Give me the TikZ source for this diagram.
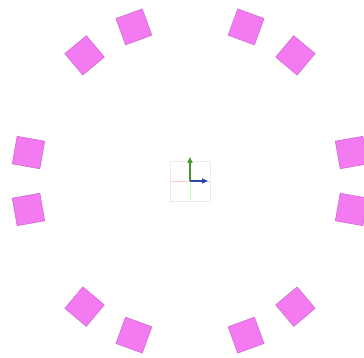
\documentclass[tikz,border=0pt]{standalone}
\usepackage{tikz}
\usetikzlibrary{arrows.meta}

\definecolor{tilepink}{RGB}{243,122,240}
\definecolor{tileedge}{RGB}{205,110,210}
\definecolor{gizgreen}{RGB}{70,150,40}
\definecolor{gizblue}{RGB}{40,70,170}

\begin{document}
\begin{tikzpicture}[
  x=1pt, y=1pt,
  tile/.style={rectangle, draw=tileedge, line width=0.6pt, fill=tilepink,
    minimum size=28pt, inner sep=0pt},
  gridline/.style={draw=black!8, line width=0.5pt},
  axis/.style={line width=1.2pt, -{Triangle[width=5pt,length=6pt]}}
]
  \useasboundingbox (-190,-177) rectangle (174,181);

  % ring of tiles
  \node[tile, rotate=10]  (t1)  at (10:164)  {};
  \node[tile, rotate=50]  (t2)  at (50:164)  {};
  \node[tile, rotate=70]  (t3)  at (70:164)  {};
  \node[tile, rotate=110] (t4)  at (110:164) {};
  \node[tile, rotate=130] (t5)  at (130:164) {};
  \node[tile, rotate=170] (t6)  at (170:164) {};
  \node[tile, rotate=190] (t7)  at (190:164) {};
  \node[tile, rotate=230] (t8)  at (230:164) {};
  \node[tile, rotate=250] (t9)  at (250:164) {};
  \node[tile, rotate=290] (t10) at (290:164) {};
  \node[tile, rotate=310] (t11) at (310:164) {};
  \node[tile, rotate=350] (t12) at (350:164) {};

  % small origin gizmo
  \draw[gridline] (-20,-20) grid[step=20] (20,20);
  \draw[draw=red!20, line width=0.5pt] (-20,0) -- (20,0);
  \draw[draw=green!25, line width=0.5pt] (0,-20) -- (0,20);
  \coordinate (o) at (0,0);
  \coordinate (ytip) at (0,24);
  \coordinate (xtip) at (18,0);
  \draw[axis, gizgreen] (o) -- (ytip);
  \draw[axis, gizblue] (o) -- (xtip);
\end{tikzpicture}
\end{document}
